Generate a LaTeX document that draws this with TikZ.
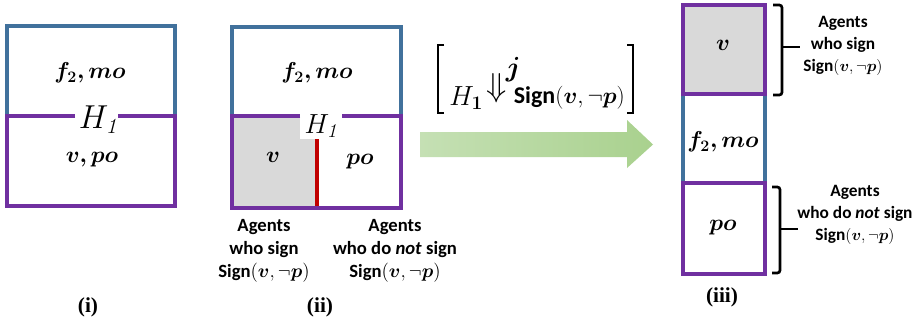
\documentclass[tikz,border=0pt]{standalone}
\usepackage{fontspec}
\usepackage{amsmath,bm}
\usetikzlibrary{positioning}
\newfontfamily\calib{Carlito}
\newfontfamily\tnr{Liberation Serif}
\definecolor{boxblue}{HTML}{41719C}
\definecolor{boxpurple}{HTML}{7030A0}
\definecolor{cutred}{HTML}{C00000}
\definecolor{signgray}{HTML}{D9D9D9}
\definecolor{arrowlight}{HTML}{C5E0B4}
\definecolor{arrowgreen}{HTML}{A9D18E}
\newcommand{\Sgn}{{\calib\bfseries Sign}$(\bm{v},\neg\bm{p})$}

\begin{document}
\begin{tikzpicture}[
  x=0.75pt, y=-0.75pt,
  every node/.style={inner sep=0pt},
  var/.style={font=\fontsize{17}{20}\selectfont},
  hlab/.style={font=\fontsize{23}{26}\selectfont},
  agents/.style={align=center, font=\calib\bfseries\fontsize{14}{17.5}\selectfont},
  tag/.style={font=\tnr\bfseries\fontsize{16}{18}\selectfont},
  blueln/.style={draw=boxblue, line width=3pt},
  purpln/.style={draw=boxpurple, line width=3pt},
  brace/.style={draw=black, line width=2pt, rounded corners=2pt}]
\useasboundingbox (0,0) rectangle (914,326);
% (i)
\draw[blueln] (6.5,115.5) -- (6.5,26) -- (175,26) -- (175,115.5);
\draw[purpln] (75,115.5) -- (6.5,115.5) -- (6.5,206) -- (175,206) -- (175,115.5) -- (118,115.5);
\node[var] (fmoA) at (90,73) {$\bm{f_2,mo}$};
\node[hlab] (hA) at (98,120) {$H_{\mathit{1}}$};
\node[var] (vpoA) at (92,160) {$\bm{v,po}$};
\node[tag] (tagA) at (88,307) {(i)};
% (ii)
\fill[signgray] (231.5,116) rectangle (317,208);
\fill[white] (300,116) rectangle (342,139);
\draw[blueln] (231.5,116) -- (231.5,27) -- (401,27) -- (401,116);
\draw[cutred, line width=2.3pt] (317,139) -- (317,208);
\draw[purpln] (300,116) -- (231.5,116) -- (231.5,208) -- (401,208) -- (401,116) -- (342,116);
\node[var] (fmoB) at (317,73) {$\bm{f_2,mo}$};
\node[hlab, font=\fontsize{21}{24}\selectfont] (hB) at (321,126) {$H_{\mathit{1}}$};
\node[var] (vB) at (273,157) {$\bm{v}$};
\node[var] (poB) at (360,162) {$\bm{po}$};
\node[agents] (signB) at (264,251) {Agents\\who sign\\\Sgn};
\node[agents] (nosignB) at (395,251) {Agents\\who do \textit{not} sign\\\Sgn};
\node[tag] (tagB) at (320,307) {(ii)};
% arrow and hypothesis
\shade[left color=arrowlight, right color=arrowgreen]
  (420,132) -- (627,132) -- (627,120) -- (653,144.5) -- (627,168) -- (627,157) -- (420,157) -- cycle;
\draw[line width=1.3pt] (444,45) -- (438,45) -- (438,113) -- (444,113);
\draw[line width=1.3pt] (627,45) -- (633,45) -- (633,113) -- (627,113);
\node[font=\fontsize{21}{24}\selectfont, anchor=west] (hC) at (449,98) {$H_{\bm{1}}$};
\node[font=\fontsize{26}{28}\selectfont, right=2pt of hC, yshift=7pt] (dnC) {$\Downarrow$};
\node[font=\fontsize{20}{22}\selectfont, anchor=south west] (jC) at ([xshift=-1pt,yshift=-6pt]dnC.north east) {$\bm{j}$};
\node[font=\calib\bfseries\fontsize{18}{20}\selectfont, anchor=west] (subC) at ([xshift=5pt]dnC.east |- hC) {\Sgn};
% (iii)
\fill[signgray] (683,5) rectangle (765,94);
\draw[blueln] (683,94) -- (683,183) (765,94) -- (765,183);
\draw[purpln] (683,5) rectangle (765,94);
\draw[purpln] (683,183) rectangle (765,274);
\node[var] (vD) at (723,45) {$\bm{v}$};
\node[var] (fmoD) at (723,142) {$\bm{f_2,mo}$};
\node[var] (poD) at (723,228) {$\bm{po}$};
\draw[brace] (773,5) -- (782,5) -- (782,95) -- (773,95);
\draw[brace] (782,47) -- (800,47);
\draw[brace] (772,187) -- (780,187) -- (780,273) -- (772,273);
\draw[brace] (780,229) -- (798,229);
\node[agents, font=\calib\bfseries\fontsize{13}{16.5}\selectfont] (signD) at (843,46) {Agents\\who sign\\\Sgn};
\node[agents, font=\calib\bfseries\fontsize{13}{16.5}\selectfont] (nosignD) at (855,215) {Agents\\who do \textit{not} sign\\\Sgn};
\node[tag] (tagD) at (722,297) {(iii)};
\end{tikzpicture}
\end{document}
